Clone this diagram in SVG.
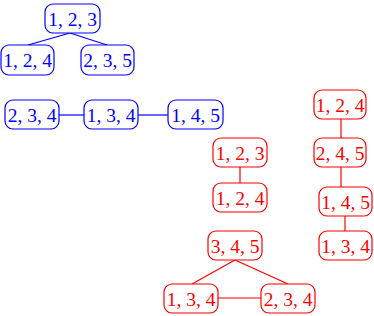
<svg xmlns="http://www.w3.org/2000/svg" width="374" height="316" viewBox="0 0 374 316">
<style>
rect{fill:#fff;stroke-width:1.2}
.b rect{stroke:#0000ff}
.r rect{stroke:#ff0000}
text{font-family:"Liberation Serif",serif;font-size:19.5px;text-anchor:middle}
.b text{fill:#0000ff}
.r text{fill:#ff0000}
.eb line{stroke:#0000ff;stroke-width:1.2}
.er line{stroke:#ff0000;stroke-width:1.2}
</style>
<rect width="374" height="316" fill="#fff"/>
<g id="connectors">
<g class="eb">
<line x1="70" y1="33" x2="28" y2="45"/>
<line x1="70" y1="33" x2="107" y2="45"/>
<line x1="59" y1="115" x2="84" y2="115"/>
<line x1="138" y1="115" x2="168" y2="115"/>
</g>
<g class="er">
<line x1="240" y1="167" x2="240" y2="183"/>
<line x1="341" y1="119" x2="341" y2="138"/>
<line x1="341" y1="167" x2="341" y2="187"/>
<line x1="345" y1="216" x2="345" y2="231"/>
<line x1="235" y1="260" x2="192" y2="284"/>
<line x1="235" y1="260" x2="288" y2="284"/>
<line x1="218" y1="298" x2="261" y2="298"/>
</g>
</g>
<g class="b">
<g id="n123b"><rect x="45" y="4" width="55" height="29" rx="8"/><text x="72.5" y="25.5">1, 2, 3</text></g>
<g id="n124b"><rect x="1" y="45" width="53" height="30" rx="8"/><text x="27.5" y="67">1, 2, 4</text></g>
<g id="n235b"><rect x="81" y="45" width="53" height="30" rx="8"/><text x="107.5" y="67">2, 3, 5</text></g>
<g id="n234b"><rect x="5" y="100" width="54" height="29" rx="8"/><text x="32" y="122">2, 3, 4</text></g>
<g id="n134b"><rect x="84" y="100" width="54" height="29" rx="8"/><text x="111" y="122">1, 3, 4</text></g>
<g id="n145b"><rect x="168" y="100" width="55" height="29" rx="8"/><text x="195.5" y="122">1, 4, 5</text></g>
</g>
<g class="r">
<g id="n123r"><rect x="213" y="138" width="54" height="29" rx="8"/><text x="240" y="160">1, 2, 3</text></g>
<g id="n124r"><rect x="213" y="183" width="54" height="29" rx="8"/><text x="240" y="205">1, 2, 4</text></g>
<g id="n124r2"><rect x="314" y="90" width="52" height="29" rx="8"/><text x="340" y="112">1, 2, 4</text></g>
<g id="n245r"><rect x="314" y="138" width="52" height="29" rx="8"/><text x="340" y="160">2, 4, 5</text></g>
<g id="n145r"><rect x="319" y="187" width="53" height="29" rx="8"/><text x="345.5" y="209">1, 4, 5</text></g>
<g id="n134r"><rect x="319" y="231" width="53" height="29" rx="8"/><text x="345.5" y="253">1, 3, 4</text></g>
<g id="n345r"><rect x="208" y="231" width="54" height="29" rx="8"/><text x="235" y="253">3, 4, 5</text></g>
<g id="n134r2"><rect x="164" y="284" width="54" height="29" rx="8"/><text x="191" y="306">1, 3, 4</text></g>
<g id="n234r"><rect x="261" y="284" width="54" height="29" rx="8"/><text x="288" y="306">2, 3, 4</text></g>
</g>
</svg>
